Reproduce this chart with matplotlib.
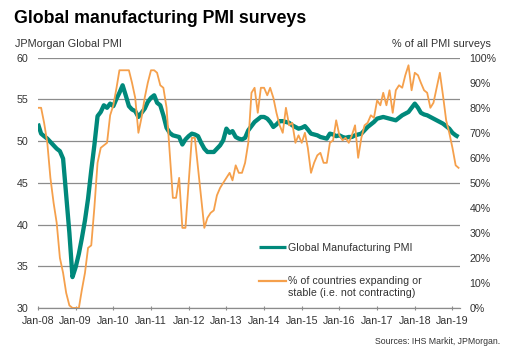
import pandas as pd
import matplotlib.pyplot as plt
import matplotlib.dates as mdates
from matplotlib.ticker import FuncFormatter
from matplotlib.legend_handler import HandlerLine2D

TEAL = '#00897b'
ORANGE = '#f5a04c'
TEXT = '#333333'
GRID = '#8c8c8c'

# JPMorgan Global Manufacturing PMI, monthly from Jan 2008
pmi = [
    52.1, 50.9, 50.6, 50.3, 49.9, 49.5, 49.1, 48.8, 47.9, 43.5, 39.0, 33.7,
    34.9, 36.5, 38.3, 40.5, 43.1, 46.5, 49.5, 53.0, 53.5, 54.3, 54.0, 54.5,
    54.2, 55.1, 55.8, 56.7, 55.5, 54.2, 53.8, 53.6, 52.9, 53.4, 53.9, 54.7,
    55.2, 55.5, 54.6, 54.3, 53.1, 51.6, 51.0, 50.7, 50.6, 50.5, 49.6, 50.2,
    50.6, 50.9, 50.8, 50.6, 49.8, 49.1, 48.7, 48.7, 48.7, 49.1, 49.5, 50.1,
    51.5, 51.0, 51.2, 50.5, 50.3, 50.2, 50.4, 51.3, 51.8, 52.3, 52.6, 52.9,
    52.9, 52.7, 52.3, 51.7, 52.0, 52.4, 52.4, 52.3, 52.2, 51.9, 51.7, 51.5,
    51.6, 51.8, 51.4, 50.9, 50.8, 50.7, 50.5, 50.4, 50.3, 50.9, 50.8, 50.6,
    50.7, 50.5, 50.4, 50.5, 50.5, 50.7, 50.8, 50.9, 51.3, 51.7, 52.0, 52.3,
    52.7, 52.8, 52.9, 52.8, 52.7, 52.6, 52.5, 52.8, 53.1, 53.3, 53.5, 54.0,
    54.5, 54.0, 53.4, 53.2, 53.1, 52.9, 52.7, 52.5, 52.3, 52.1, 51.8, 51.5,
    51.0, 50.7, 50.5,
]

# % of countries expanding or stable
share = [
    80, 80, 74, 66, 52, 42, 34, 20, 14, 6, 1, 0,
    0, 0, 7, 14, 24, 25, 40, 58, 64, 65, 66, 77,
    81, 88, 95, 95, 95, 95, 90, 84, 70, 76, 84, 90,
    95, 95, 94, 89, 88, 80, 62, 44, 44, 52, 32, 32,
    50, 68, 68, 56, 44, 32, 36, 38, 39, 45, 48, 50,
    52, 54, 51, 57, 54, 54, 58, 66, 86, 88, 78, 88,
    88, 85, 88, 84, 78, 73, 70, 80, 73, 74, 66, 69,
    66, 70, 64, 54, 58, 61, 62, 58, 58, 66, 67, 75,
    69, 67, 68, 66, 69, 73, 60, 68, 73, 74, 77, 76,
    83, 81, 86, 81, 87, 78, 87, 89, 88, 93, 97, 87,
    94, 93, 90, 87, 86, 80, 82, 88, 94, 85, 75, 70,
    64, 57, 56,
]

dates = pd.date_range('2008-01-01', periods=len(pmi), freq='MS')


class TopLineHandler(HandlerLine2D):
    # puts the legend line level with the first line of a two-line label
    def create_artists(self, *args, **kwargs):
        artists = super().create_artists(*args, **kwargs)
        for a in artists:
            a.set_ydata([y + 4.8 for y in a.get_ydata()])
        return artists


plt.rcParams['font.family'] = ['Liberation Sans', 'DejaVu Sans']

fig = plt.figure(figsize=(5.18, 3.61), dpi=100)
ax = fig.add_axes([0.073, 0.147, 0.815, 0.693])
ax2 = ax.twinx()

ax.set_ylim(30, 60)
ax.set_yticks(range(30, 61, 5))
ax2.set_ylim(0, 100)
ax2.set_yticks(range(0, 101, 10))
ax2.yaxis.set_major_formatter(FuncFormatter(lambda v, p: f'{v:.0f}%'))

ax.set_xlim(pd.Timestamp('2007-12-31'), pd.Timestamp('2019-03-15'))
ax.xaxis.set_major_locator(mdates.YearLocator())
ax.xaxis.set_major_formatter(mdates.DateFormatter('%b-%y'))

ax.grid(axis='y', color=GRID, linewidth=0.9)
ax.set_axisbelow(True)
for a in (ax, ax2):
    for side in ('left', 'right', 'top'):
        a.spines[side].set_visible(False)
    a.spines['bottom'].set_color(GRID)
    a.tick_params(labelsize=7.7, colors=TEXT, length=0, pad=7)
ax.tick_params(axis='x', length=3, direction='inout', color=GRID, pad=4.5)

l1, = ax.plot(dates, pmi, color=TEAL, linewidth=3.1, solid_capstyle='butt',
              label='Global Manufacturing PMI')
l2, = ax2.plot(dates, share, color=ORANGE, linewidth=1.3,
               label='% of countries expanding or\nstable (i.e. not contracting)')

leg = ax2.legend(handles=[l1, l2], loc='lower left', bbox_to_anchor=(0.5, 0.002),
                 frameon=False, fontsize=7.7, handlelength=2.6, handletextpad=0.2,
                 labelspacing=2.2, labelcolor=TEXT,
                 handler_map={l2: TopLineHandler()})
leg.get_lines()[0].set_linewidth(2.3)
leg.get_lines()[1].set_linewidth(1.6)

fig.text(0.027, 0.95, 'Global manufacturing PMI surveys', fontsize=12.8,
         fontweight='bold', color='black', va='center')
fig.text(0.029, 0.877, 'JPMorgan Global PMI', fontsize=7.8, color=TEXT, va='center')
fig.text(0.947, 0.877, '% of all PMI surveys', fontsize=7.8, color=TEXT,
         va='center', ha='right')
fig.text(0.966, 0.055, 'Sources: IHS Markit, JPMorgan.', fontsize=6.3,
         color=TEXT, va='center', ha='right')

fig.savefig('out.png', dpi=100)
